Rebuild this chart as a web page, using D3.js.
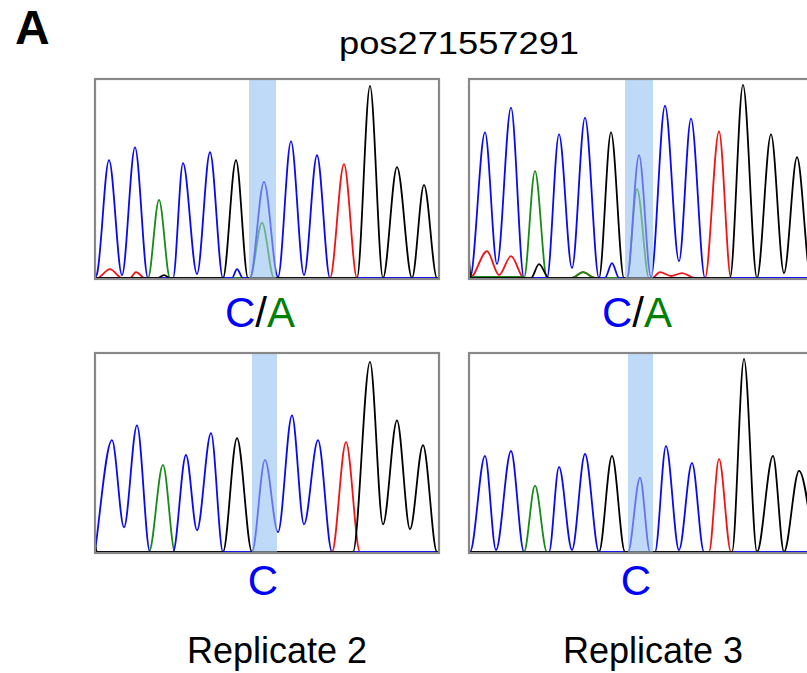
<!DOCTYPE html>
<meta charset="utf-8">
<head>
    <style>
        body { margin: 0; background: #fff; }
        text { font-family: "Liberation Sans", Arial, sans-serif; }
    </style>
</head>
<body>
    <div id="chart"></div>

    <script src="https://d3js.org/d3.v7.min.js"></script>
    <script>
        // trace data: [scan, intensity]
        // top row = C/A calls, bottom row = C calls; left = Replicate 2, right = Replicate 3
        let rep2_top_blue = [[0,0],[2,4],[14,119],[27,3],[40,132],[53,0],[78,0],[88,116],[102,4],[115,127],[128,0],[137,0],[142,9],[148,0],[155,0],[169,97],[183,1],[196,138],[209,3],[222,124],[235,0],[344,0]];
        let rep2_top_green = [[0,0],[53,0],[64,79],[75,0],[155,0],[167,56],[179,0],[344,0]];
        let rep2_top_red = [[0,0],[2,0],[15,9],[27,0],[35,0],[41,6],[50,0],[235,0],[249,115],[262,0],[344,0]];
        let rep2_top_black = [[0,0],[63,0],[69,3],[75,0],[128,0],[141,119],[153,0],[262,0],[275,194],[288,0],[302,112],[317,0],[329,94],[342,0],[344,0]];

        let rep3_top_blue = [[0,0],[1,0],[16,147],[28,14],[42,172],[55,0],[78,0],[90,145],[103,10],[116,162],[130,0],[136,0],[143,15],[150,0],[158,0],[170,124],[182,1],[196,174],[210,17],[222,161],[236,0],[344,0]];
        let rep3_top_green = [[0,1],[52,1],[55,0],[66,108],[78,0],[103,0],[114,6],[126,0],[158,0],[168,90],[180,0],[344,0]];
        let rep3_top_red = [[0,0],[1,0],[18,27],[30,3],[42,22],[55,0],[103,0],[114,6],[126,0],[183,0],[191,6],[202,2],[213,5],[226,0],[236,0],[250,148],[262,0],[344,0]];
        let rep3_top_black = [[0,20],[2,0],[62,0],[70,14],[80,0],[130,0],[142,147],[155,0],[261,0],[274,195],[288,0],[302,145],[315,5],[328,122],[342,0],[344,0]];

        let rep2_bot_blue = [[0,0],[1,8],[17,113],[29,25],[42,128],[55,0],[78,0],[91,98],[102,22],[116,120],[128,0],[157,0],[170,93],[183,20],[197,138],[209,28],[223,113],[237,0],[344,0]];
        let rep2_bot_green = [[0,0],[54,0],[68,88],[80,0],[344,0]];
        let rep2_bot_red = [[0,0],[237,0],[251,111],[265,0],[344,0]];
        let rep2_bot_black = [[0,8],[2,0],[128,0],[142,115],[157,0],[258,0],[275,192],[288,28],[302,133],[315,23],[328,108],[342,0],[344,0]];

        let rep3_bot_blue = [[0,0],[1,0],[16,97],[27,2],[42,102],[55,0],[80,0],[90,86],[103,2],[116,99],[130,0],[159,0],[171,75],[181,0],[186,0],[197,107],[210,2],[223,90],[235,0],[344,0]];
        let rep3_bot_green = [[0,0],[55,0],[66,67],[78,0],[344,0]];
        let rep3_bot_red = [[0,0],[240,0],[250,94],[262,0],[344,0]];
        let rep3_bot_black = [[0,0],[130,0],[143,97],[156,0],[263,0],[275,195],[288,0],[304,97],[315,0],[330,82],[345,0]];

        // highlighted base (scan range) per panel
        let highlights = [[154, 181], [156, 184], [157, 182], [159, 184]];

        // base calls under each panel: [letter, colour] pieces
        let calls = [
            [['C', 'blue'], ['/', 'black'], ['A', 'green']],
            [['C', 'blue'], ['/', 'black'], ['A', 'green']],
            [['C', 'blue']],
            [['C', 'blue']]
        ];
        let replicates = ['Replicate 2', 'Replicate 3'];
        let title = 'pos271557291';

        // chart default setting
        let svgWidth = 807;
        let svgHeight = 673;
        let panelW = 344;
        let panelH = 200;
        let colX = [95, 469];
        let rowY = [79, 353];
        let colors = {blue: '#0a0af0', green: '#178a17', red: '#f01414', black: '#000000'};
        let textColors = {blue: '#0000ff', green: '#008000', black: '#000000'};

        let panels = [
            {col: 0, row: 0, traces: {red: rep2_top_red, green: rep2_top_green, blue: rep2_top_blue, black: rep2_top_black}},
            {col: 1, row: 0, traces: {red: rep3_top_red, green: rep3_top_green, blue: rep3_top_blue, black: rep3_top_black}},
            {col: 0, row: 1, traces: {red: rep2_bot_red, green: rep2_bot_green, blue: rep2_bot_blue, black: rep2_bot_black}},
            {col: 1, row: 1, traces: {red: rep3_bot_red, green: rep3_bot_green, blue: rep3_bot_blue, black: rep3_bot_black}}
        ];

        let svg = d3.select('#chart')
                    .append('svg')
                    .attr('width', svgWidth)
                    .attr('height', svgHeight);

        svg.append('rect').attr('width', svgWidth).attr('height', svgHeight).attr('fill', '#fff');

        // panel letter and title
        svg.append('text')
            .attr('x', 15).attr('y', 44)
            .attr('font-size', 48).attr('font-weight', 'bold')
            .text('A');
        svg.append('text')
            .attr('x', 459).attr('y', 54)
            .attr('text-anchor', 'middle')
            .attr('font-size', 32)
            .attr('textLength', 240).attr('lengthAdjust', 'spacingAndGlyphs')
            .text(title);

        panels.forEach((p, i) => {
            let left = colX[p.col];
            let top = rowY[p.row];
            let baseline = top + panelH;

            let x = d3.scaleLinear().domain([0, panelW]).range([left, left + panelW]);
            let y = d3.scaleLinear().domain([0, 200]).range([baseline - 1, baseline - 199]);

            let g = svg.append('g');
            let clipId = 'clip' + i;
            g.append('clipPath').attr('id', clipId)
                .append('rect')
                .attr('x', left).attr('y', top)
                .attr('width', panelW).attr('height', panelH);

            let inner = g.append('g').attr('clip-path', `url(#${clipId})`);

            let hl = highlights[i];
            inner.append('rect')
                .attr('x', x(hl[0])).attr('y', top)
                .attr('width', x(hl[1]) - x(hl[0])).attr('height', panelH)
                .attr('fill', '#bfdaf7');

            let line = d3.line()
                .x(d => x(d[0]))
                .y(d => y(d[1]))
                .curve(d3.curveMonotoneX);

            ['red', 'green', 'blue', 'black'].forEach(ch => {
                inner.append('path')
                    .datum(p.traces[ch])
                    .attr('d', line)
                    .attr('fill', 'none')
                    .attr('stroke', colors[ch])
                    .attr('stroke-width', 1.8)
                    .attr('stroke-linejoin', 'round');
            });

            // wash the highlighted base so traces look lighter there
            inner.append('rect')
                .attr('x', x(hl[0])).attr('y', top)
                .attr('width', x(hl[1]) - x(hl[0])).attr('height', panelH)
                .attr('fill', '#bfdaf7')
                .attr('opacity', 0.5);

            g.append('rect')
                .attr('x', left).attr('y', top)
                .attr('width', panelW).attr('height', panelH)
                .attr('fill', 'none')
                .attr('stroke', '#888')
                .attr('stroke-width', 2.2);

            // base call label
            let callY = p.row === 0 ? 327 : 595;
            let callX = p.row === 0 ? [260, 637][p.col] : [263, 636][p.col];
            let t = svg.append('text')
                .attr('x', callX).attr('y', callY)
                .attr('text-anchor', 'middle')
                .attr('font-size', 42);
            calls[i].forEach(c => {
                t.append('tspan').attr('fill', textColors[c[1]]).text(c[0]);
            });
        });

        replicates.forEach((r, i) => {
            svg.append('text')
                .attr('x', [277, 653][i]).attr('y', 663)
                .attr('text-anchor', 'middle')
                .attr('font-size', 36)
                .text(r);
        });
    </script>
</body>
